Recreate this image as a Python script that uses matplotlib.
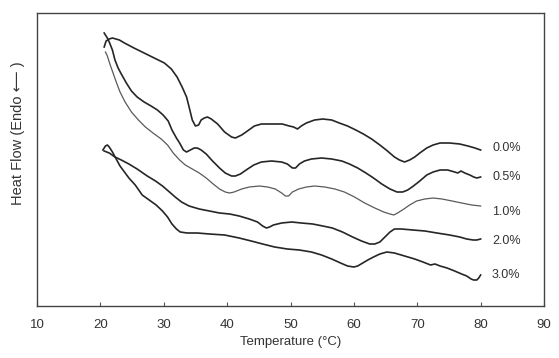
import matplotlib
matplotlib.use("Agg")
import matplotlib.pyplot as plt

plt.rcParams["font.family"] = ["Liberation Sans", "DejaVu Sans"]

# temperature (°C) and heat flow (arbitrary units)
t_00 = [20.6, 20.9, 21.4, 21.9, 23.0, 23.8, 25.3, 26.9, 28.5, 30.1, 31.2, 32.1, 32.9, 33.6, 34.0,
        34.5, 35.0, 35.5, 35.9, 36.4, 36.9, 37.5, 38.5, 39.6, 40.7, 41.3, 42.3, 43.2, 44.3, 45.4,
        47.0, 48.7, 49.8, 50.5, 51.1, 51.7, 52.5, 53.8, 55.1, 56.5, 57.7, 59.0, 60.3, 61.5, 62.8,
        64.1, 65.3, 66.4, 67.2, 68.0, 68.8, 69.6, 70.4, 71.5, 72.5, 73.6, 75.1, 76.7, 78.0, 79.1, 80.0]
hf_00 = [259, 265, 267, 268, 266, 263, 258, 253, 248, 243, 237, 229, 219, 209, 199,
         186, 180, 181, 186, 188, 189, 187, 182, 174, 169, 168, 171, 175, 180, 182,
         182, 182, 180, 179, 177, 180, 183, 186, 187, 186, 183, 180, 176, 172, 167,
         161, 155, 149, 146, 144, 146, 149, 153, 158, 161, 163, 163, 162, 160, 158, 156]

t_05 = [20.6, 21.1, 21.4, 21.9, 22.3, 22.8, 23.3, 24.1, 24.9, 25.8, 26.9, 28.0, 29.0, 29.9, 30.7,
        31.3, 32.0, 32.5, 33.1, 33.6, 34.2, 34.8, 35.3, 35.9, 36.7, 37.7, 38.8, 39.7, 40.7, 41.3,
        42.1, 43.0, 44.2, 45.4, 47.0, 48.6, 49.5, 50.3, 50.8, 51.4, 52.2, 53.3, 54.9, 56.5, 58.1,
        59.3, 60.6, 61.9, 63.1, 64.4, 65.7, 66.8, 67.7, 68.5, 69.4, 70.4, 71.5, 72.5, 73.6, 74.8,
        75.9, 76.4, 76.9, 77.5, 78.3, 78.9, 79.4, 80.0]
hf_05 = [273, 268, 264, 256, 246, 238, 232, 223, 215, 209, 204, 200, 196, 191, 185,
         176, 168, 163, 156, 154, 156, 158, 158, 156, 152, 145, 138, 133, 130, 130,
         132, 136, 141, 144, 145, 144, 142, 138, 138, 142, 145, 147, 148, 147, 145,
         142, 138, 133, 128, 122, 117, 114, 114, 116, 120, 125, 131, 134, 136, 136,
         134, 133, 135, 133, 131, 129, 128, 129]

t_10 = [20.8, 21.1, 21.5, 22.0, 22.5, 23.1, 23.9, 24.9, 26.0, 27.1, 28.3, 29.6, 30.6, 31.5, 32.5,
        33.4, 34.5, 35.6, 36.7, 37.8, 38.8, 39.7, 40.4, 41.1, 42.3, 43.5, 45.1, 46.4, 47.6, 48.6,
        49.2, 49.7, 50.3, 51.3, 52.5, 53.8, 55.4, 57.0, 58.5, 60.1, 61.7, 63.3, 64.7, 65.7, 66.3,
        66.9, 67.9, 68.8, 69.9, 71.2, 72.5, 73.9, 75.5, 77.0, 78.6, 80.0]
hf_10 = [254, 250, 242, 233, 224, 214, 204, 194, 186, 179, 173, 167, 161, 153, 146,
         141, 137, 133, 128, 122, 117, 114, 113, 114, 117, 119, 120, 119, 117, 113,
         110, 110, 114, 117, 119, 120, 119, 117, 114, 109, 103, 98, 94, 92, 91,
         93, 97, 101, 105, 107, 108, 107, 105, 103, 101, 100]

t_20 = [20.6, 21.4, 22.3, 23.3, 24.5, 25.8, 27.4, 28.7, 29.8, 30.9, 31.8, 32.8, 34.0, 35.6, 37.2,
        38.8, 40.4, 41.9, 43.5, 44.8, 45.6, 46.2, 46.7, 47.3, 48.6, 50.2, 51.7, 53.5, 55.1, 56.6,
        58.2, 59.8, 61.2, 62.5, 63.3, 64.1, 64.9, 65.7, 66.4, 67.5, 69.3, 71.2, 73.1, 75.1, 76.7,
        77.8, 78.8, 79.4, 80.0]
hf_20 = [155, 153, 149, 146, 142, 137, 130, 125, 120, 114, 109, 104, 100, 97, 95,
         93, 92, 90, 87, 84, 80, 78, 79, 81, 83, 84, 83, 82, 80, 78,
         74, 69, 65, 62, 62, 64, 69, 74, 77, 77, 76, 75, 73, 71, 69,
         67, 66, 66, 67]

t_30 = [20.4, 20.8, 21.1, 21.4, 21.9, 22.5, 23.1, 23.8, 24.5, 25.5, 26.6, 27.7, 28.8, 29.8, 30.6,
        31.3, 32.0, 32.6, 33.7, 35.3, 37.2, 39.6, 41.9, 43.8, 45.6, 47.5, 49.5, 51.4, 53.3, 54.9,
        56.5, 57.9, 59.0, 60.0, 60.6, 61.4, 62.2, 63.1, 64.1, 65.2, 66.4, 68.0, 69.6, 70.9, 71.7,
        72.1, 72.8, 73.6, 74.7, 75.9, 77.0, 77.8, 78.5, 78.9, 79.4, 79.7, 80.0]
hf_30 = [156, 160, 161, 159, 154, 147, 140, 134, 128, 121, 111, 106, 101, 95, 89,
         82, 77, 74, 73, 73, 72, 71, 68, 65, 62, 59, 57, 56, 54, 51,
         47, 43, 40, 39, 40, 43, 46, 49, 52, 54, 53, 50, 47, 44, 42,
         41, 42, 40, 38, 35, 32, 30, 27, 26, 26, 28, 31]

labels = ["0.0%", "0.5%", "1.0%", "2.0%", "3.0%"]
label_y = [158, 129, 94, 65, 31]

fig = plt.figure(figsize=(5.59, 3.58), dpi=100)
ax = fig.add_axes([37 / 559, 1 - 306 / 358, 507 / 559, 293 / 358])

ink = "#262626"
ax.plot(t_00, hf_00, color=ink, lw=1.2)
ax.plot(t_05, hf_05, color=ink, lw=1.2)
ax.plot(t_10, hf_10, color="#5a5a5a", lw=0.9)
ax.plot(t_20, hf_20, color=ink, lw=1.2)
ax.plot(t_30, hf_30, color=ink, lw=1.2)

for lab, yy in zip(labels, label_y):
    ax.text(81.8, yy, lab, ha="left", va="center", fontsize=9, color="#333333")

ax.set_xlim(10, 90)
ax.set_ylim(0, 293)
ax.set_xticks(range(10, 91, 10))
ax.set_yticks([])
ax.tick_params(axis="x", direction="in", length=3, width=0.8, color="#555555",
               labelsize=9.5, labelcolor="#333333", pad=9)
for s in ax.spines.values():
    s.set_color("#444444")
    s.set_linewidth(1.0)

fig.text(291 / 559, 1 - 342 / 358, "Temperature (°C)", ha="center", va="center",
         fontsize=9.5, color="#333333")
fig.text(18 / 559, 1 - 133 / 358, "Heat Flow (Endo \u27f5 )", rotation=90,
         ha="center", va="center", fontsize=10.5, color="#333333")

fig.savefig("out.png", dpi=100)
